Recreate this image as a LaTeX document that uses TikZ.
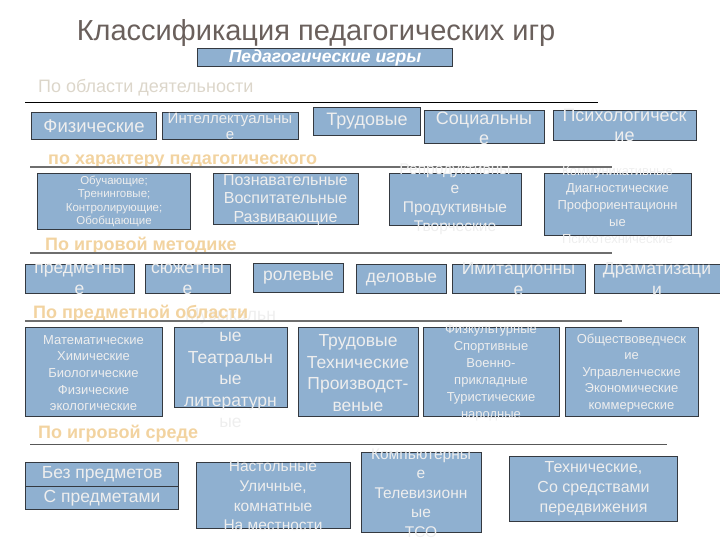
\documentclass[tikz,border=0pt]{standalone}
\usepackage{fontspec}
\setmainfont{Liberation Sans}
\usepackage{tikz}
\usetikzlibrary{positioning}

\definecolor{boxfill}{HTML}{8FB0D0}
\definecolor{boxline}{HTML}{343940}
\definecolor{boxtext}{HTML}{EEEEEE}
\definecolor{titlecol}{HTML}{6A605C}
\definecolor{catcol}{HTML}{F2D3A0}
\definecolor{areacol}{HTML}{DCD6CA}
\definecolor{rulecol}{HTML}{6E6E6E}

\newcommand{\fs}[2]{\fontsize{#1}{#2}\selectfont}

\begin{document}
\begin{tikzpicture}[x=1pt, y=-1pt,
    box/.style={draw=boxline, fill=boxfill, line width=1.1pt, inner sep=0pt, anchor=north west},
    btxt/.style={text=boxtext, align=center, inner sep=0pt},
    cat/.style={text=catcol, font=\fs{18}{21}\bfseries, anchor=base west, inner sep=0pt},
    rule/.style={draw=rulecol, line width=2pt}]
    \useasboundingbox (0,0) rectangle (720,540);

    % title
    \node[text=titlecol, font=\fs{29}{32}] (title) at (316,33) {Классификация педагогических игр};
    \node[box, minimum width=255, minimum height=18] (root) at (197,48) {};
    \node[btxt, text=white, font=\fs{17.5}{20}\bfseries\itshape] at (root.center) {Педагогические игры};

    % по области деятельности
    \node[text=areacol, font=\fs{18}{21}, anchor=base west, inner sep=0pt] (area) at (38,93) {По области деятельности};
    \draw[black, line width=1pt] (25,103) -- (598,103);
    \node[box, minimum width=125, minimum height=27] (fiz) at (31,112) {};
    \node[btxt, font=\fs{18.5}{20}] at (fiz.center) {Физические};
    \node[box, minimum width=136, minimum height=27] (intel) at (162,112) {};
    \node[btxt, font=\fs{15}{16}] at (230,126) {Интеллектуальны\\е};
    \node[box, minimum width=107, minimum height=28] (trud) at (313,107) {};
    \node[btxt, font=\fs{18}{20}] at (trud.center) {Трудовые};
    \node[box, minimum width=120, minimum height=33] (soc) at (424,110) {};
    \node[btxt, font=\fs{18}{20}] at (484,128) {Социальны\\е};
    \node[box, minimum width=143, minimum height=30] (psy) at (553,110) {};
    \node[btxt, font=\fs{18}{20}] at (624.5,125) {Психологическ\\ие};

    % по характеру педагогического
    \node[cat] (harakter) at (48,165) {по характеру педагогического};
    \draw[rule, line width=2.5pt] (30,167) -- (612,167);
    \node[box, minimum width=153, minimum height=56] (obuch) at (37,173) {};
    \node[btxt, font=\fs{11.5}{13.5}] at (obuch.center) {Обучающие;\\Тренинговые;\\Контролирующие;\\Обобщающие};
    \node[box, minimum width=145, minimum height=51] (pozn) at (213,173) {};
    \node[btxt, font=\fs{16}{18.5}] at (285.5,200) {Познавательные\\Воспитательные\\Развивающие};
    \node[box, minimum width=132, minimum height=52] (repr) at (389,173) {};
    \node[btxt, font=\fs{15.5}{19}] at (455,199.5) {Репродуктивны\\е\\Продуктивные\\Творческие};
    \node[box, minimum width=147, minimum height=62] (komm) at (544,173) {};
    \node[btxt, font=\fs{13}{17}] at (617.5,205) {Коммуникативные\\Диагностические\\Профориентационн\\ые\\Психотехнические};

    % по игровой методике
    \node[cat] (metod) at (45,250) {По игровой методике};
    \draw[rule] (30,253) -- (612,253);
    \node[box, minimum width=109, minimum height=29] (predm) at (25,264) {};
    \node[btxt, font=\fs{17.5}{21}] at (79.5,279) {предметны\\е};
    \node[box, minimum width=85, minimum height=29] (syuzh) at (145,264) {};
    \node[btxt, font=\fs{17.5}{21}] at (187.5,279) {сюжетны\\е};
    \node[box, minimum width=90, minimum height=29] (rol) at (253,263) {};
    \node[btxt, font=\fs{17.5}{20}] at (rol.center) {ролевые};
    \node[box, minimum width=90, minimum height=29] (del) at (356,264) {};
    \node[btxt, font=\fs{17.5}{20}] at (del.center) {деловые};
    \node[box, minimum width=133, minimum height=29] (imit) at (452,264) {};
    \node[btxt, font=\fs{17.5}{21}] at (518.5,279) {Имитационны\\е};
    \node[box, minimum width=126, minimum height=29] (dram) at (594,264) {};
    \node[btxt, font=\fs{17.5}{21}] at (657,279) {Драматизаци\\и};

    % по предметной области
    \node[box, minimum width=137, minimum height=89] (matem) at (25,327) {};
    \node[btxt, font=\fs{13}{16.7}] at (93.5,373) {Математические\\Химические\\Биологические\\Физические\\экологические};
    \node[box, minimum width=113, minimum height=80] (muz) at (174,327) {};
    \node[btxt, font=\fs{17.5}{21.5}] at (230.5,368) {Музыкальн\\ые\\Театральн\\ые\\литературн\\ые};
    \node[cat] (oblast) at (33,318) {По предметной области};
    \draw[rule] (25,321) -- (622,321);
    \node[box, minimum width=120, minimum height=89] (tehn) at (298,327) {};
    \node[btxt, font=\fs{17.5}{21.5}] at (358,373) {Трудовые\\Технические\\Производст-\\веные};
    \node[box, minimum width=136, minimum height=89] (sport) at (423,327) {};
    \node[btxt, font=\fs{13}{17}] at (491,373) {Физкультурные\\Спортивные\\Военно-\\прикладные\\Туристические\\народные};
    \node[box, minimum width=133, minimum height=89] (obsch) at (565,327) {};
    \node[btxt, font=\fs{13}{16.5}] at (631.5,373) {Обществоведческ\\ие\\Управленческие\\Экономические\\коммерческие};

    % по игровой среде
    \node[cat] (sreda) at (38,438) {По игровой среде};
    \draw[draw=rulecol!80!black, line width=1pt] (30,444) -- (667,444);
    \node[box, minimum width=153, minimum height=24] (bez) at (25,462) {};
    \node[btxt, font=\fs{17.5}{20}] at (bez.center) {Без предметов};
    \node[box, minimum width=153, minimum height=23] (spredm) at (25,486) {};
    \node[btxt, font=\fs{17.5}{20}] at (spredm.center) {С предметами};
    \node[box, minimum width=154, minimum height=66] (nastol) at (196,462) {};
    \node[btxt, font=\fs{15.5}{19.7}] at (273,496) {Настольные\\Уличные,\\комнатные\\На местности};
    \node[box, minimum width=120, minimum height=80] (komp) at (361,452) {};
    \node[btxt, font=\fs{15.5}{19.5}] at (421,493) {Компьютерны\\е\\Телевизионн\\ые\\ТСО};
    \node[box, minimum width=168, minimum height=65] (transp) at (509,456) {};
    \node[btxt, font=\fs{16}{20}] at (transp.center) {Технические,\\Со средствами\\передвижения};
\end{tikzpicture}
\end{document}
